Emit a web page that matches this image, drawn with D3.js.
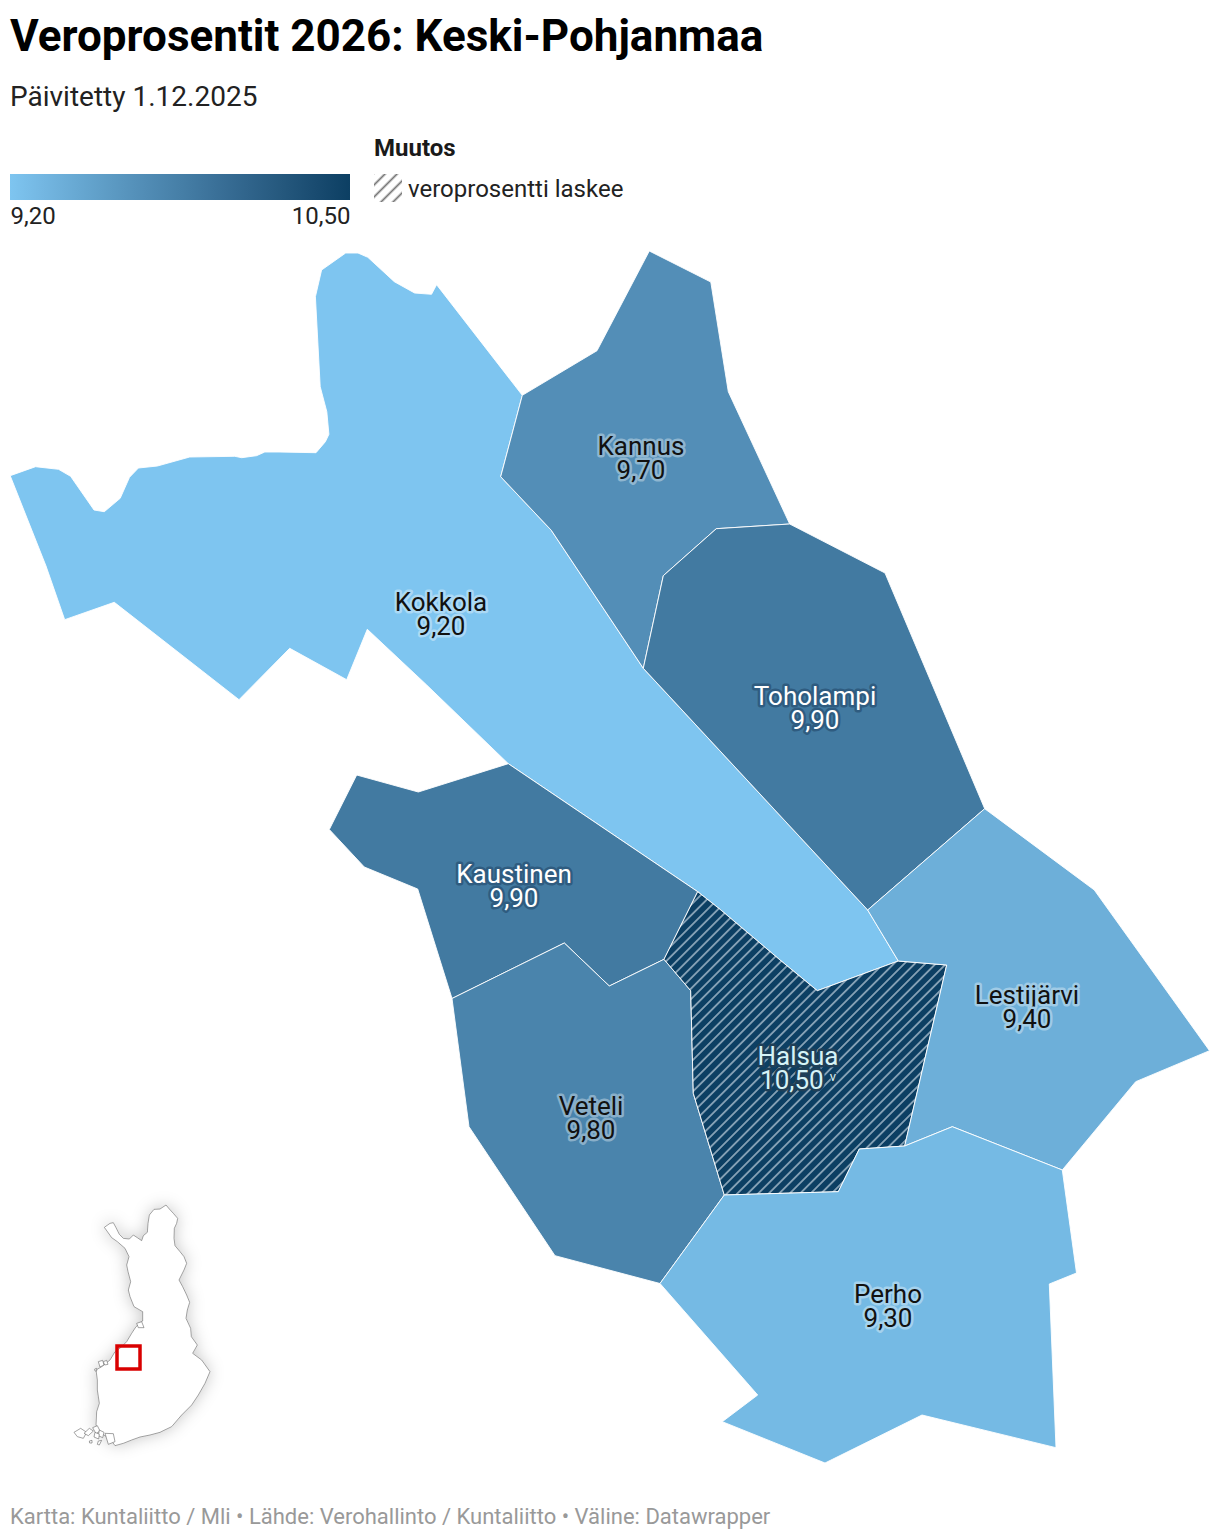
<!DOCTYPE html>
<html lang="fi">
<head>
<meta charset="utf-8">
<title>Veroprosentit 2026: Keski-Pohjanmaa</title>
<script src="https://cdn.jsdelivr.net/npm/d3@7"></script>
<style>
  html, body { margin: 0; padding: 0; background: #fff; }
  svg { display: block; font-family: Roboto, sans-serif; }
  .label { text-anchor: middle; font-size: 26px; paint-order: stroke; stroke-linejoin: round; stroke-width: 5px; }
</style>
</head>
<body>
<svg id="chart" width="1220" height="1540"></svg>
<script>
// kunnat ja veroprosentit
var municipalities = ["Kokkola", "Kannus", "Toholampi", "Kaustinen", "Veteli", "Halsua", "Lestijärvi", "Perho"];
var taxRates = [9.20, 9.70, 9.90, 9.90, 9.80, 10.50, 9.40, 9.30];
var taxLowered = ["Halsua"];
var legendTicks = [9.20, 10.50];

// rajat luettu kuvasta, karttayksikot
var kokkolaRing = [[10.2,475.7],[35.5,466.7],[58.5,469.3],[70.6,476.3],[94,510],[104.3,511.7],[120.2,498.3],[129.5,477.3],[138.4,468],[157.4,466],[189.7,457],[234.8,456.3],[241.7,457.7],[256.5,455.7],[264.8,452],[279,452],[316,452.7],[325.4,441.7],[328.9,434.3],[326.8,411.7],[320.2,386.7],[315.4,296.7],[321.6,270],[345.7,253],[358,253],[367.8,257.3],[394.3,281.7],[414.6,293],[431.5,294.3],[436.6,284.7],[522.3,395.3],[500.7,476.7],[551.3,530.3],[643.3,668.3],[867.7,910],[898.3,961],[817.3,990.7],[780,960],[720,909.3],[697.7,891.7],[508.3,763.7],[426.7,685],[367.3,629.3],[346.7,679.7],[289.7,648.3],[239,699.7],[114.3,602.3],[64.7,619.7],[46,566]];
var kannusRing = [[522.3,395.3],[597,350.7],[649.3,251],[710.8,282],[728.3,391.7],[789.7,524],[716.3,528.7],[663.3,575.7],[643.3,668.3],[551.3,530.3],[500.7,476.7]];
var toholampiRing = [[789.7,524],[885,573],[984.7,808.7],[867.7,910],[643.3,668.3],[663.3,575.7],[716.3,528.7]];
var kaustinenRing = [[508.3,763.7],[697.7,891.7],[664,959.3],[609.3,986],[564.3,943],[452,998.5],[417.7,889],[364.3,867],[329.3,829.5],[356.7,775],[418.3,792]];
var veteliRing = [[452,998.5],[564.3,943],[609.3,986],[664,959.3],[690.7,990.7],[693.3,1093.3],[724.3,1195],[660,1283.5],[555,1255.7],[469,1126.7]];
var halsuaRing = [[697.7,891.7],[720,909.3],[780,960],[817.3,990.7],[898.3,961],[946.7,965],[904.7,1146],[859.3,1149],[838.3,1191.7],[724.3,1195],[693.3,1093.3],[690.7,990.7],[664,959.3]];
var lestijarviRing = [[867.7,910],[984.7,808.7],[1094.3,890],[1209.5,1050.7],[1135.7,1081.7],[1062.3,1170],[952.3,1126.7],[904.7,1146],[946.7,965],[898.3,961]];
var perhoRing = [[724.3,1195],[838.3,1191.7],[859.3,1149],[904.7,1146],[952.3,1126.7],[1062.3,1170],[1076.5,1273],[1049.3,1284],[1056,1447.7],[922,1415],[825,1463],[722.3,1421.7],[757.7,1395],[660,1283.5]];
var rings = [kokkolaRing, kannusRing, toholampiRing, kaustinenRing, veteliRing, halsuaRing, lestijarviRing, perhoRing];

// nimien paikat samoissa karttayksikoissa
var labelAnchors = [[441,611],[641,455],[815,705],[514,883],[591,1115],[798,1065],[1027,1004],[888,1303]];

// pikkukartta
var finlandRing = [[133,97],[150,85],[160,83],[168,98],[178,118],[190,130],[208,132],[220,120],[232,128],[245,137],[250,122],[262,112],[264,85],[268,60],[282,43],[300,42],[318,30],[328,42],[340,55],[353,70],[350,85],[343,100],[342,130],[345,152],[360,170],[372,185],[380,205],[372,225],[357,255],[368,275],[380,300],[389,322],[382,345],[378,370],[392,400],[394,425],[412,450],[398,475],[425,495],[450,530],[435,565],[415,600],[395,630],[365,660],[335,695],[312,706],[300,712],[270,720],[240,726],[215,735],[190,745],[165,752],[158,742],[140,725],[118,712],[108,690],[110,650],[118,625],[112,585],[112,555],[108,525],[125,515],[150,495],[165,470],[182,458],[200,440],[215,415],[228,395],[248,378],[248,350],[222,335],[210,305],[205,285],[212,260],[204,230],[200,210],[207,185],[195,160],[172,140],[155,128]];
var islandRings = [
  [[42,712],[62,700],[80,712],[70,730],[52,725]],
  [[72,715],[88,700],[100,708],[85,722]],
  [[98,698],[112,692],[120,708],[108,716]],
  [[118,705],[132,712],[128,728],[115,722]],
  [[105,712],[118,718],[116,732],[102,726]],
  [[135,715],[160,716],[165,740],[145,748]],
  [[115,738],[125,736],[118,750],[112,748]],
  [[88,738],[96,736],[96,744],[89,744]],
  [[115,500],[128,496],[132,510],[120,516]],
  [[130,500],[140,496],[144,508],[134,510]],
  [[104,522],[110,520],[110,528],[105,528]],
  [[230,385],[245,380],[252,398],[235,398]]
];
var insetBox = [[171,453],[240,522]];

var fmt = d3.formatLocale({ decimal: ",", thousands: " ", grouping: [3], currency: ["", ""] }).format(".2f");

var color = d3.scaleLinear()
  .domain([9.2, 10.5])
  .range(["#7ec5f0", "#0c3f63"])
  .interpolate(d3.interpolateLab);

var svg = d3.select("#chart");
var defs = svg.append("defs");

// viivoitus
function hatch(id, size, bg, line, lineWidth) {
  var p = defs.append("pattern")
    .attr("id", id)
    .attr("patternUnits", "userSpaceOnUse")
    .attr("width", size).attr("height", size)
    .attr("patternTransform", "rotate(45)");
  if (bg) p.append("rect").attr("width", size).attr("height", size).attr("fill", bg);
  p.append("line")
    .attr("x1", size / 2).attr("x2", size / 2)
    .attr("y1", 0).attr("y2", size)
    .attr("stroke", line).attr("stroke-width", lineWidth);
}
hatch("hatchMap", 7.4, color(10.5), "#a0b7c8", 1.5);
hatch("hatchLegend", 8.5, null, "#777", 1.8);

var legendGrad = defs.append("linearGradient").attr("id", "legendGrad");
d3.range(0, 1.01, 0.1).forEach(function(t) {
  legendGrad.append("stop")
    .attr("offset", t)
    .attr("stop-color", color(9.2 + t * 1.3));
});

var shadow = defs.append("filter").attr("id", "insetShadow")
  .attr("x", "-30%").attr("y", "-30%").attr("width", "160%").attr("height", "160%");
shadow.append("feDropShadow")
  .attr("dx", 0).attr("dy", 0).attr("stdDeviation", 8)
  .attr("flood-color", "#000").attr("flood-opacity", 0.22);

// otsikot
svg.append("text").attr("x", 10).attr("y", 51)
  .attr("font-size", 44).attr("font-weight", 700).attr("fill", "#000")
  .text("Veroprosentit 2026: Keski-Pohjanmaa");
svg.append("text").attr("x", 10).attr("y", 106)
  .attr("font-size", 28).attr("fill", "#222")
  .text("Päivitetty 1.12.2025");

// selite
var legendX = d3.scaleLinear().domain(d3.extent(legendTicks)).range([10, 350]);
svg.append("rect")
  .attr("x", legendX.range()[0]).attr("y", 174)
  .attr("width", legendX.range()[1] - legendX.range()[0]).attr("height", 26)
  .attr("fill", "url(#legendGrad)");

var legendAxis = svg.append("g")
  .attr("transform", "translate(0,201)")
  .call(d3.axisBottom(legendX).tickValues(legendTicks).tickSize(0).tickPadding(6).tickFormat(fmt));
legendAxis.select(".domain").remove();
legendAxis.selectAll("text")
  .attr("font-family", "Roboto, sans-serif")
  .attr("font-size", 24)
  .attr("fill", "#222")
  .attr("text-anchor", function(d, i) { return i === 0 ? "start" : "end"; });

svg.append("text").attr("x", 374).attr("y", 156)
  .attr("font-size", 24).attr("font-weight", 700).attr("fill", "#1a1a1a")
  .text("Muutos");
svg.append("rect").attr("x", 374).attr("y", 174).attr("width", 28).attr("height", 28)
  .attr("fill", "url(#hatchLegend)");
svg.append("text").attr("x", 408).attr("y", 196.5)
  .attr("font-size", 24).attr("fill", "#222")
  .text("veroprosentti laskee");

// kartta
var projection = d3.geoIdentity();
var path = d3.geoPath(projection);

function polygon(ring) {
  return { type: "Polygon", coordinates: [ring.concat([ring[0]])] };
}

var regions = municipalities.map(function(name, i) {
  return { name: name, rate: taxRates[i], ring: rings[i], anchor: labelAnchors[i] };
});

svg.append("g").selectAll("path")
  .data(regions)
  .join("path")
  .attr("d", function(d) { return path(polygon(d.ring)); })
  .attr("fill", function(d) {
    return taxLowered.indexOf(d.name) >= 0 ? "url(#hatchMap)" : color(d.rate);
  })
  .attr("stroke", "#fff")
  .attr("stroke-width", 0.9)
  .attr("stroke-linejoin", "round");

// tekstin vari taustan mukaan
function textColor(d) {
  if (d.rate >= 10.5) return "#d5f3f7";
  return d.rate >= 9.9 ? "#fff" : "#111";
}
function haloColor(d) {
  if (d.rate >= 10.5) return "#1f3f57";
  if (d.rate >= 9.9) return "#2f5c80";
  return d3.interpolateRgb(color(d.rate), "#fff")(0.35);
}

var labels = svg.append("g").selectAll("g")
  .data(regions)
  .join("g")
  .attr("transform", function(d) { return "translate(" + projection(d.anchor) + ")"; });

labels.append("text")
  .attr("class", "label")
  .attr("fill", textColor).attr("stroke", haloColor)
  .text(function(d) { return d.name; });
var values = labels.append("text")
  .attr("class", "label")
  .attr("y", 24)
  .attr("fill", textColor).attr("stroke", haloColor)
  .text(function(d) { return fmt(d.rate); });
values.filter(function(d) { return taxLowered.indexOf(d.name) >= 0; })
  .append("tspan")
  .attr("dx", 6).attr("dy", -8)
  .attr("style", "font-size:13px;stroke-width:2px")
  .text("v");

// pikkukartta
var insetProjection = d3.geoIdentity().scale(1 / 3).translate([60, 1195]);
var insetPath = d3.geoPath(insetProjection);
var inset = svg.append("g");
inset.append("path")
  .attr("d", insetPath(polygon(finlandRing)))
  .attr("fill", "#fff").attr("stroke", "#666").attr("stroke-width", 0.6)
  .attr("filter", "url(#insetShadow)");
inset.selectAll(".island")
  .data(islandRings)
  .join("path")
  .attr("class", "island")
  .attr("d", function(d) { return insetPath(polygon(d)); })
  .attr("fill", "#fff").attr("stroke", "#666").attr("stroke-width", 0.6);
var boxA = insetProjection(insetBox[0]);
var boxB = insetProjection(insetBox[1]);
inset.append("rect")
  .attr("x", boxA[0]).attr("y", boxA[1])
  .attr("width", boxB[0] - boxA[0]).attr("height", boxB[1] - boxA[1])
  .attr("fill", "none").attr("stroke", "#d90000").attr("stroke-width", 3.5);

// lahde
svg.append("text").attr("x", 10).attr("y", 1524)
  .attr("font-size", 22).attr("fill", "#999")
  .text("Kartta: Kuntaliitto / Mli • Lähde: Verohallinto / Kuntaliitto • Väline: Datawrapper");
</script>
</body>
</html>
